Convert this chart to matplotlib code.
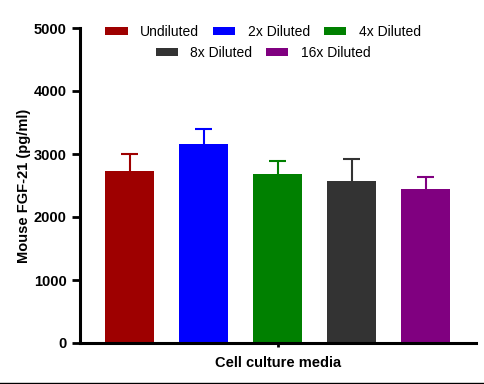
import numpy as np
import matplotlib
matplotlib.use("Agg")
import matplotlib.pyplot as plt
from matplotlib.patches import Patch
from matplotlib.lines import Line2D

plt.rcParams['font.family'] = ['Liberation Sans', 'DejaVu Sans']

groups = ['Undiluted', '2x Diluted', '4x Diluted', '8x Diluted', '16x Diluted']
means = [2730, 3160, 2685, 2570, 2445]
errors = [270, 232, 205, 355, 190]
colors = ['#9e0000', '#0000ff', '#008000', '#333333', '#800080']
yticks = [0, 1000, 2000, 3000, 4000, 5000]

fig = plt.figure(figsize=(4.84, 3.84), dpi=100)
ax = fig.add_axes([80 / 484, 41 / 384, 396 / 484, 315 / 384])

x = np.arange(len(groups)) - 2
cap = 0.115
for xi, m, e, c in zip(x, means, errors, colors):
    ax.bar(xi, m, width=0.66, color=c, zorder=2)
    # upper error bar only
    ax.vlines(xi, m, m + e, colors=c, linewidth=1.5, zorder=1)
    ax.hlines(m + e, xi - cap, xi + cap, colors=c, linewidth=1.5, zorder=1)

ax.set_xlim(-2.67, 2.68)
ax.set_ylim(0, 5000)
ax.set_yticks(yticks)
ax.set_yticklabels([str(t) for t in yticks], fontweight='bold', fontsize=10.5)
ax.set_xticks([0])
ax.set_xticklabels([''])
ax.tick_params(axis='y', length=6, width=2)
ax.tick_params(axis='x', length=3, width=2)

for s in ['top', 'right']:
    ax.spines[s].set_visible(False)
for s in ['left', 'bottom']:
    ax.spines[s].set_linewidth(2.2)

ax.set_xlabel('Cell culture media', fontweight='bold', fontsize=10.5, labelpad=3)
ax.set_ylabel('Mouse FGF-21 (pg/ml)', fontweight='bold', fontsize=10.5, labelpad=2)

handles = [Patch(facecolor=c, edgecolor='none') for c in colors]
leg_kw = dict(frameon=False, fontsize=10, handlelength=1.6, handleheight=0.45,
              handletextpad=0.9, columnspacing=1.0, borderaxespad=0)
leg1 = fig.legend(handles[:3], groups[:3], ncol=3, loc='center',
                  bbox_to_anchor=(263 / 484, 1 - 32 / 384), **leg_kw)
leg2 = fig.legend(handles[3:], groups[3:], ncol=2, loc='center',
                  bbox_to_anchor=(263 / 484, 1 - 53 / 384), **leg_kw)

fig.add_artist(Line2D([0, 1], [1.5 / 384, 1.5 / 384], color='black',
                      linewidth=1, transform=fig.transFigure))

fig.savefig('out.png', dpi=100)
